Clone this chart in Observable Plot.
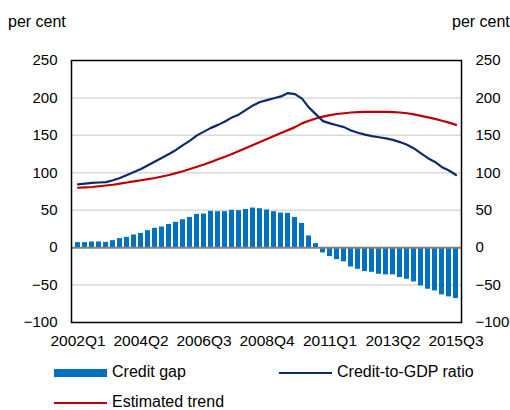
<!DOCTYPE html>
<html>
<head>
<meta charset="utf-8">
<script src="https://cdn.jsdelivr.net/npm/d3@7"></script>
<script src="https://cdn.jsdelivr.net/npm/@observablehq/plot@0.6"></script>
<style>
  body { margin: 0; background: #fff; font-family: "Liberation Sans", Arial, sans-serif; }
  #wrap { position: relative; width: 510px; height: 410px; overflow: hidden; }
  .lbl { position: absolute; font-size: 16px; color: #000; white-space: nowrap; line-height: 1; }
  .sw { position: absolute; }
</style>
</head>
<body>
<div id="wrap"></div>
<script>
// Quarters 2002Q1 .. 2015Q3
const quarters = [];
for (let y = 2002; y <= 2015; y++) for (let q = 1; q <= 4; q++) { if (y === 2015 && q > 3) break; quarters.push(y + "Q" + q); }

const tickLabels = ["2002Q1", "2004Q2", "2006Q3", "2008Q4", "2011Q1", "2013Q2", "2015Q3"];
const yTicks = [-100, -50, 0, 50, 100, 150, 200, 250];

const creditGap = [6.7, 6.7, 7.5, 7.5, 7, 9.3, 12, 13.8, 16.9, 19, 22.7, 25.8, 27.6, 31, 33.8, 37.3, 40.4, 44.4, 44.9, 48.4,
  48, 48, 49.8, 49.3, 51, 52.9, 52, 50.2, 48, 46.2, 45.8, 40.4, 32.4, 15.6, 5.3, -7.1, -12, -16, -19, -25.8,
  -28.9, -32, -32.9, -35.6, -36.4, -36.4, -40, -42.2, -45.8, -51.1, -55.6, -57.8, -63.1, -65.8, -68];

const creditToGdp = [84.5, 85.5, 86.5, 87, 87.5, 90, 93, 97, 101, 105, 110, 115, 120, 125, 130.5, 137, 143, 150, 155, 160,
  164, 168.5, 174, 178, 184, 190, 194.5, 197, 199.5, 202, 206.5, 205, 199, 187, 178, 169, 166, 163.5, 161, 156.5,
  153.5, 151, 149, 147.5, 146, 144, 141, 137.5, 132.5, 126, 119.5, 114.5, 107.5, 103, 97];

const trend = [80, 80.5, 81, 82, 83, 84, 85.5, 87, 88.5, 90, 91.5, 93, 95, 97, 99.5, 102, 105, 108, 111, 114.5,
  118, 121.5, 125, 129, 133, 137, 141, 145, 149, 153, 157, 161, 166, 169.5, 172.5, 175, 177, 178.5, 179.5, 180.5,
  181, 181.5, 181.5, 181.5, 181.5, 181, 180.5, 179.5, 178, 176, 174, 172, 169.5, 167, 164];

const gapData = quarters.map((q, i) => ({q, v: creditGap[i]}));
const ratioData = quarters.map((q, i) => ({q, v: creditToGdp[i]}));
const trendData = quarters.map((q, i) => ({q, v: trend[i]}));

const FSY = 15;
const FSX = 15.5;
const chart = Plot.plot({
  width: 510,
  height: 410,
  marginTop: 60,
  marginBottom: 88,
  marginLeft: 71,
  marginRight: 49,
  style: {fontFamily: '"Liberation Sans", Arial, sans-serif', fontSize: "15px", color: "#000", background: "#fff", overflow: "visible"},
  x: {type: "band", domain: quarters, paddingInner: 0.35, paddingOuter: 0.15},
  y: {domain: [-100, 250]},
  marks: [
    Plot.ruleY([200, 150, 100, 50, -50], {stroke: "#d9d9d9", strokeWidth: 1.5}),
    Plot.barY(gapData, {x: "q", y: "v", fill: "#0070c0"}),
    Plot.ruleY([0], {stroke: "#808080", strokeWidth: 2}),
    Plot.line(trendData, {x: "q", y: "v", stroke: "#c00000", strokeWidth: 2.2}),
    Plot.line(ratioData, {x: "q", y: "v", stroke: "#0d2a6b", strokeWidth: 2.2}),
    Plot.frame({stroke: "#000", strokeWidth: 1.5}),
    Plot.axisY(yTicks, {anchor: "left", tickSize: 0, tickPadding: 14, fontSize: FSY, label: null}),
    Plot.axisY(yTicks, {anchor: "right", tickSize: 0, tickPadding: 14, fontSize: FSY, label: null}),
    Plot.axisX(tickLabels, {anchor: "bottom", tickSize: 0, tickPadding: 12, fontSize: FSX, label: null})
  ]
});

const wrap = document.getElementById("wrap");
wrap.appendChild(chart);

function addText(txt, left, top, extra) {
  const d = document.createElement("div");
  d.className = "lbl";
  d.textContent = txt;
  d.style.left = left + "px";
  d.style.top = top + "px";
  if (extra) Object.assign(d.style, extra);
  wrap.appendChild(d);
}
function addSwatch(left, top, w, h, color) {
  const d = document.createElement("div");
  d.className = "sw";
  d.style.left = left + "px"; d.style.top = top + "px";
  d.style.width = w + "px"; d.style.height = h + "px";
  d.style.background = color;
  wrap.appendChild(d);
}
addText("per cent", 8, 14);
addText("per cent", 452, 14);

const legend = [
  {name: "Credit gap", color: "#0070c0", x: 54, y: 373, h: 8},
  {name: "Credit-to-GDP ratio", color: "#0d2a6b", x: 279, y: 373, h: 2},
  {name: "Estimated trend", color: "#c00000", x: 54, y: 403, h: 2}
];
for (const l of legend) {
  addSwatch(l.x, l.y - l.h / 2, 53, l.h, l.color);
  addText(l.name, l.x + 58, l.y - 9);
}
</script>
</body>
</html>
